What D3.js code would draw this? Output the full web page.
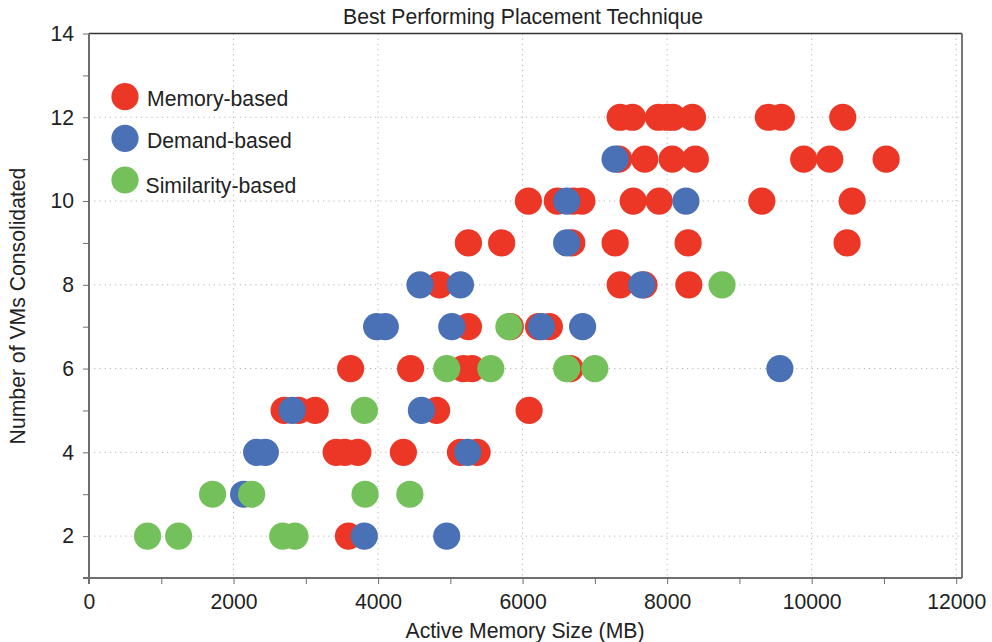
<!DOCTYPE html>
<html>
<head>
<meta charset="utf-8">
<script src="https://cdn.jsdelivr.net/npm/d3@7"></script>
<style>
    body { margin: 0; background: #fff; }
    text { font-family: "Liberation Sans", Arial, Helvetica, sans-serif; fill: #222; }
    .grid line { stroke: #b5b5b5; stroke-width: 1; stroke-dasharray: 1.2,4; }
    .axis path, .axis line { stroke: #6e6e6e; }
</style>
</head>
<body>
<svg id="chart" width="992" height="642"></svg>
<script>
// values: [active memory MB, VMs consolidated]
let memoryBased = [
    [3590, 2],
    [3420, 4], [3540, 4], [3720, 4], [4350, 4], [5140, 4], [5370, 4],
    [2700, 5], [2900, 5], [3130, 5], [4810, 5], [6090, 5],
    [3620, 6], [4450, 6], [5180, 6], [5300, 6], [6660, 6],
    [5250, 7], [5830, 7], [6220, 7], [6370, 7],
    [4850, 8], [7350, 8], [7680, 8], [8300, 8],
    [5250, 9], [5710, 9], [6680, 9], [7280, 9], [8290, 9], [10490, 9],
    [6080, 10], [6480, 10], [6700, 10], [6820, 10], [7530, 10], [7890, 10], [9310, 10], [10560, 10],
    [7330, 11], [7690, 11], [8070, 11], [8390, 11], [9890, 11], [10250, 11], [11030, 11],
    [7350, 12], [7520, 12], [7880, 12], [8000, 12], [8080, 12], [8350, 12], [9400, 12], [9580, 12], [10430, 12]
];
let demandBased = [
    [3810, 2], [4950, 2],
    [2140, 3],
    [2320, 4], [2440, 4], [5240, 4],
    [2810, 5], [4600, 5],
    [9560, 6],
    [3980, 7], [4100, 7], [5020, 7], [6260, 7], [6830, 7],
    [4580, 8], [5140, 8], [7650, 8],
    [6610, 9],
    [6610, 10], [8260, 10],
    [7280, 11]
];
let similarityBased = [
    [810, 2], [1240, 2], [2680, 2], [2850, 2],
    [1710, 3], [2250, 3], [3820, 3], [4440, 3],
    [3810, 5],
    [4950, 6], [5560, 6], [6610, 6], [7000, 6],
    [5810, 7],
    [8760, 8]
];
let seriesNames = ["Memory-based", "Demand-based", "Similarity-based"];
let seriesColors = ["#ec3626", "#4a70b6", "#74c05b"];
let xTicks = [0, 2000, 4000, 6000, 8000, 10000, 12000];
let yTicks = [2, 4, 6, 8, 10, 12, 14];

let svg = d3.select("#chart");
let plotL = 89, plotR = 962, plotT = 33.5, plotB = 578;
let fontSize = 21.2;

let x = d3.scaleLinear().domain([0, 12080]).range([plotL, plotR]);
let y = d3.scaleLinear().domain([1, 14]).range([plotB, plotT]);

// dotted grid
let grid = svg.append("g").attr("class", "grid");
grid.selectAll("line.v")
    .data(xTicks.slice(1))
    .enter().append("line")
    .attr("class", "v")
    .attr("x1", d => x(d)).attr("x2", d => x(d))
    .attr("y1", plotT).attr("y2", plotB);
grid.selectAll("line.h")
    .data(yTicks.slice(0, -1))
    .enter().append("line")
    .attr("class", "h")
    .attr("x1", plotL).attr("x2", plotR)
    .attr("y1", d => y(d)).attr("y2", d => y(d));

// frame top / right
svg.append("line")
    .attr("x1", plotL).attr("x2", plotR).attr("y1", plotT).attr("y2", plotT)
    .attr("stroke", "#333").attr("stroke-width", 1.5);
svg.append("line")
    .attr("x1", plotR).attr("x2", plotR).attr("y1", plotT).attr("y2", plotB)
    .attr("stroke", "#777").attr("stroke-width", 2);

// axes: minor ticks every 1000 / every 1, labels on the even ones
let xAxis = d3.axisBottom(x)
    .tickValues(d3.range(0, 12001, 1000))
    .tickSize(6).tickSizeOuter(0)
    .tickFormat(d => xTicks.includes(d) ? d : "");
let yAxis = d3.axisLeft(y)
    .tickValues(d3.range(1, 15, 1))
    .tickSize(6).tickSizeOuter(0)
    .tickFormat(d => yTicks.includes(d) ? d : "");

let gx = svg.append("g").attr("class", "axis")
    .attr("transform", "translate(0," + plotB + ")")
    .call(xAxis);
gx.select(".domain").attr("stroke-width", 2).attr("d", "M" + (plotL - 6) + ",0H" + plotR);
gx.selectAll("text").attr("font-size", fontSize).attr("dy", "1.02em").attr("fill", "#222");

let gy = svg.append("g").attr("class", "axis")
    .attr("transform", "translate(" + plotL + ",0)")
    .call(yAxis);
gy.select(".domain").attr("stroke-width", 2).attr("d", "M0," + (plotB + 6) + "V" + plotT);
gy.selectAll("text").attr("font-size", fontSize).attr("x", -15).attr("fill", "#222");

// scatter, red first then blue then green
let allSeries = [memoryBased, demandBased, similarityBased];
allSeries.forEach(function(points, i) {
    svg.append("g").selectAll("circle")
        .data(points)
        .enter().append("circle")
        .attr("cx", d => x(d[0]))
        .attr("cy", d => y(d[1]))
        .attr("r", 13.6)
        .attr("fill", seriesColors[i]);
});

// legend
let legendY = [96.7, 138.3, 180];
let legendTextY = [106, 148, 193];
let legend = svg.append("g");
legend.selectAll("circle")
    .data(seriesNames)
    .enter().append("circle")
    .attr("cx", 125)
    .attr("cy", (d, i) => legendY[i])
    .attr("r", 13.6)
    .attr("fill", (d, i) => seriesColors[i]);
legend.selectAll("text")
    .data(seriesNames)
    .enter().append("text")
    .attr("x", (d, i) => i == 2 ? 145.5 : 147)
    .attr("y", (d, i) => legendTextY[i])
    .attr("font-size", fontSize)
    .text(d => d);

// titles
svg.append("text")
    .attr("x", 523).attr("y", 24)
    .attr("text-anchor", "middle")
    .attr("font-size", fontSize)
    .text("Best Performing Placement Technique");
svg.append("text")
    .attr("x", 525).attr("y", 638)
    .attr("text-anchor", "middle")
    .attr("font-size", fontSize)
    .text("Active Memory Size (MB)");
svg.append("text")
    .attr("transform", "translate(25,306) rotate(-90)")
    .attr("text-anchor", "middle")
    .attr("font-size", fontSize)
    .text("Number of VMs Consolidated");
</script>
</body>
</html>
